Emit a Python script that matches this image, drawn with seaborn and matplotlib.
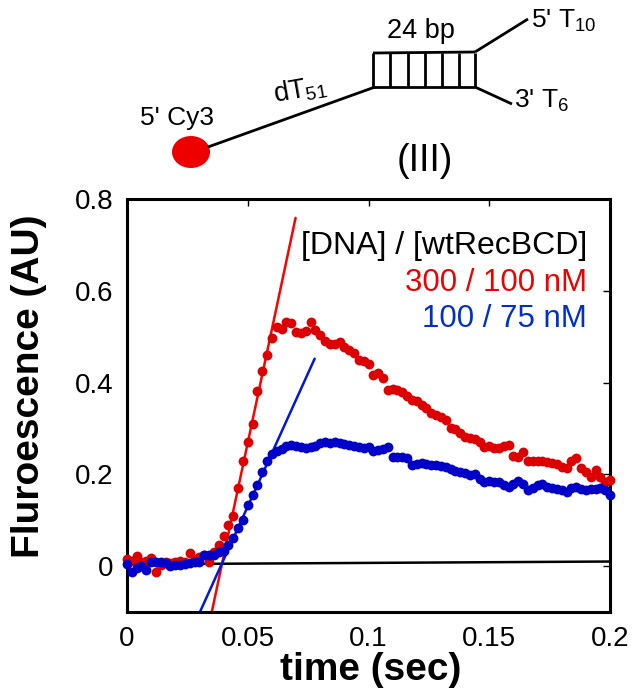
import numpy as np
import pandas as pd
import matplotlib
matplotlib.use("Agg")
import matplotlib.pyplot as plt
from matplotlib.patches import Ellipse
import seaborn as sns

# ---------------- data ----------------
time_s = np.round(np.arange(101) * 0.002, 3)

red_300_100 = [
    0.015, 0.012, 0.021, 0.010, 0.012, 0.017, -0.013, 0.003, 0.008, 0.006,
    0.010, 0.012, 0.009, 0.028, 0.014, 0.020, 0.025, 0.010, 0.030, 0.045,
    0.065, 0.090, 0.110, 0.170, 0.228, 0.270, 0.310, 0.382, 0.425, 0.460,
    0.497, 0.521, 0.516, 0.532, 0.530, 0.510, 0.508, 0.512, 0.532, 0.515,
    0.504, 0.490, 0.485, 0.485, 0.488, 0.478, 0.470, 0.465, 0.449, 0.447,
    0.440, 0.416, 0.420, 0.410, 0.383, 0.385, 0.383, 0.380, 0.370, 0.362,
    0.360, 0.352, 0.345, 0.333, 0.330, 0.325, 0.318, 0.302, 0.298, 0.290,
    0.282, 0.280, 0.278, 0.270, 0.260, 0.262, 0.258, 0.257, 0.262, 0.264,
    0.240, 0.238, 0.249, 0.229, 0.230, 0.228, 0.228, 0.226, 0.224, 0.222,
    0.215, 0.213, 0.230, 0.235, 0.213, 0.205, 0.195, 0.209, 0.195, 0.184,
    0.188,
]

blue_100_75 = [
    0.005, -0.012, -0.005, 0.000, -0.008, 0.009, 0.010, 0.010, 0.006, 0.000,
    0.002, 0.003, 0.005, 0.007, 0.008, 0.009, 0.025, 0.024, 0.025, 0.030,
    0.034, 0.045, 0.061, 0.083, 0.101, 0.133, 0.155, 0.177, 0.206, 0.228,
    0.244, 0.250, 0.255, 0.262, 0.265, 0.262, 0.260, 0.258, 0.260, 0.262,
    0.268, 0.271, 0.268, 0.270, 0.269, 0.266, 0.264, 0.262, 0.259, 0.257,
    0.260, 0.250, 0.253, 0.255, 0.260, 0.238, 0.237, 0.237, 0.236, 0.220,
    0.222, 0.224, 0.222, 0.220, 0.220, 0.218, 0.217, 0.212, 0.208, 0.205,
    0.202, 0.198, 0.200, 0.190, 0.184, 0.185, 0.183, 0.184, 0.176, 0.173,
    0.180, 0.186, 0.178, 0.166, 0.170, 0.176, 0.178, 0.172, 0.170, 0.168,
    0.165, 0.162, 0.170, 0.173, 0.168, 0.166, 0.167, 0.168, 0.170, 0.166,
    0.154,
]

# linear fits of the rising phase (end points)
red_fit_t = [0.0351, 0.0698]
red_fit_y = [-0.100, 0.759]
blue_fit_t = [0.0302, 0.0777]
blue_fit_y = [-0.100, 0.452]
base_t = [0.0, 0.2]
base_y = [0.004, 0.010]

x_ticks = [0, 0.05, 0.1, 0.15, 0.2]
x_ticklabels = ["0", "0.05", "0.1", "0.15", "0.2"]
y_ticks = [0, 0.2, 0.4, 0.6, 0.8]
y_ticklabels = ["0", "0.2", "0.4", "0.6", "0.8"]

legend_title = "[DNA] / [wtRecBCD]"
legend_red = "300 / 100 nM"
legend_blue = "100 / 75 nM"

# ---------------- style ----------------
sns.set_theme(style="white")
plt.rcParams["font.family"] = ["Liberation Sans", "DejaVu Sans"]
plt.rcParams["mathtext.default"] = "regular"
plt.rcParams["text.color"] = "black"
plt.rcParams["axes.labelcolor"] = "black"

RED_DOT = "#dd0000"
BLUE_DOT = "#0000c8"
RED_LINE = "#ff0000"
BLUE_LINE = "#0018d8"

W, H = 634, 689
fig = plt.figure(figsize=(W / 100, H / 100), dpi=100)
fig.patch.set_facecolor("white")

ax = fig.add_axes([127 / W, 1 - 612 / H, (610 - 127) / W, (612 - 199) / H])

df_red = pd.DataFrame({"t": time_s, "y": red_300_100})
df_blue = pd.DataFrame({"t": time_s, "y": blue_100_75})

sns.lineplot(x=base_t, y=base_y, color="black", lw=1.8, ax=ax, zorder=1)
sns.lineplot(x=red_fit_t, y=red_fit_y, color=RED_LINE, lw=1.8, ax=ax, zorder=2)
sns.lineplot(x=blue_fit_t, y=blue_fit_y, color=BLUE_LINE, lw=1.8, ax=ax, zorder=2)
sns.scatterplot(data=df_red, x="t", y="y", color=RED_DOT, s=50, linewidth=0,
                ax=ax, zorder=3, clip_on=False)
sns.scatterplot(data=df_blue, x="t", y="y", color=BLUE_DOT, s=50, linewidth=0,
                ax=ax, zorder=4, clip_on=False)

ax.set_xlim(0, 0.2)
ax.set_ylim(-0.1, 0.8)
ax.set_xticks(x_ticks)
ax.set_xticklabels(x_ticklabels)
ax.set_yticks(y_ticks)
ax.set_yticklabels(y_ticklabels)
ax.tick_params(direction="in", length=5, width=1, top=True, right=True,
               labelsize=20, pad=10, colors="black")
for sp in ax.spines.values():
    sp.set_linewidth(2.2)
    sp.set_color("black")
ax.grid(False)

ax.set_xlabel("time (sec)", fontsize=28, fontweight="bold")
ax.set_ylabel("Fluroescence (AU)", fontsize=28, fontweight="bold")
ax.xaxis.set_label_coords(0.505, -0.096)
ax.yaxis.set_label_coords(-0.165, 0.547)

# legend-like text
tx = (587 - 127) / (610 - 127)
ax.text(tx, (612 - 246) / 413, legend_title, transform=ax.transAxes,
        ha="right", va="center", fontsize=23, color="black")
ax.text(tx, (612 - 283) / 413, legend_red, transform=ax.transAxes,
        ha="right", va="center", fontsize=22.5, color="#ee0000")
ax.text(tx, (612 - 319) / 413, legend_blue, transform=ax.transAxes,
        ha="right", va="center", fontsize=22.5, color="#0030c8")

# ---------------- DNA schematic (pixel coordinates) ----------------
dax = fig.add_axes([0, 0, 1, 1], zorder=-1)
dax.set_xlim(0, W)
dax.set_ylim(H, 0)
dax.axis("off")
lk = dict(color="black", lw=2.0, solid_capstyle="butt")
dax.plot([208, 375], [147, 87], **lk)
rung_x = [373, 390, 408, 425, 442, 459, 475]
dax.plot([373, 475], [53, 52], **lk)
dax.plot([373, 475], [87, 87], **lk)
for rx in rung_x:
    dax.plot([rx, rx], [53, 87], **lk)
dax.plot([475, 528], [52, 19], **lk)
dax.plot([475, 512], [87, 104], **lk)
dax.add_patch(Ellipse((191, 152), 38, 32, color="#ee0000", lw=0))

dax.text(177, 118, "5' Cy3", ha="center", va="center", fontsize=19, color="black")
dax.text(300, 90, "dT$_{51}$", ha="center", va="center", fontsize=19.5,
         rotation=10, color="black")
dax.text(421, 31, "24 bp", ha="center", va="center", fontsize=19.5, color="black")
dax.text(531, 21, "5' T$_{10}$", ha="left", va="center", fontsize=19, color="black")
dax.text(514, 101, "3' T$_{6}$", ha="left", va="center", fontsize=19, color="black")
dax.text(425, 161, "(III)", ha="center", va="center", fontsize=27, color="black")

fig.savefig("out.png", dpi=100, facecolor="white")
